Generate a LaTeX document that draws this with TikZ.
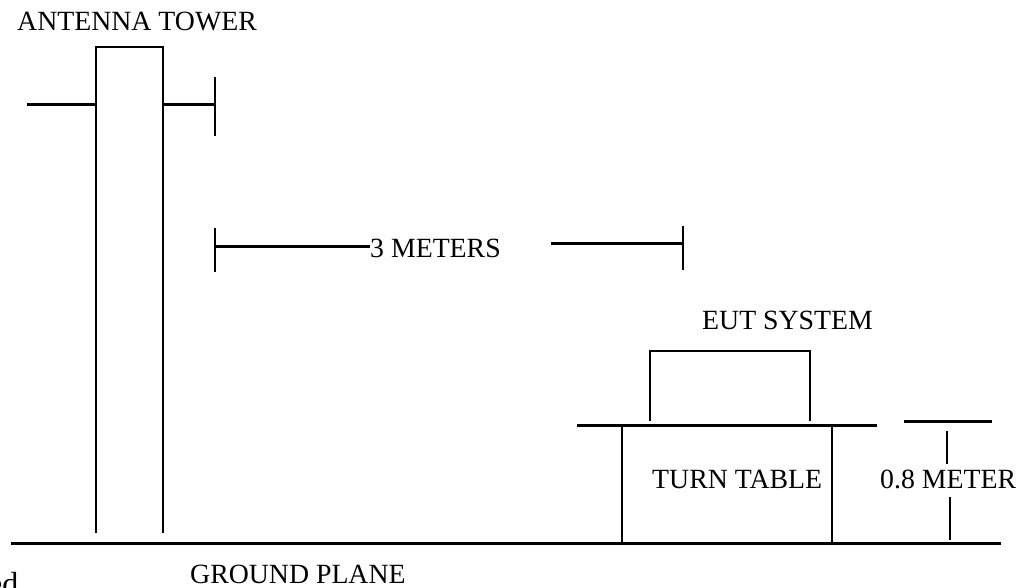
\documentclass[tikz,border=0pt]{standalone}
\usepackage{fontspec}
\setmainfont{Liberation Serif}
\begin{document}
\begin{tikzpicture}[x=1pt, y=-1pt, thin/.style = {line width=1.3pt}, heavy/.style = {line width=3pt}, label/.style = {inner sep=0pt, anchor=base west, font=\fontsize{27.8pt}{30pt}\selectfont}]
        \useasboundingbox (0,0) rectangle (1032,587);
        % tower
        \coordinate (t1) at (96,533);
        \coordinate (t2) at (96,47);
        \coordinate (t3) at (163,47);
        \coordinate (t4) at (163,533);
        \coordinate (a1) at (27,104);
        \coordinate (a2) at (96,104);
        \coordinate (a3) at (163,104);
        \coordinate (a4) at (216,104);
        \coordinate (a5) at (215,77);
        \coordinate (a6) at (215,136);
        % distance
        \coordinate (d1) at (215,228);
        \coordinate (d2) at (215,272);
        \coordinate (d3) at (215,246);
        \coordinate (d4) at (683,226);
        \coordinate (d5) at (683,270);
        \coordinate (d6) at (683,243);
        \coordinate (d7) at (551,243);
        % table
        \coordinate (b1) at (650,421);
        \coordinate (b2) at (650,351);
        \coordinate (b3) at (810,351);
        \coordinate (b4) at (810,421);
        \coordinate (p1) at (577,425);
        \coordinate (p2) at (877,425);
        \coordinate (l1) at (622,427);
        \coordinate (l2) at (622,543);
        \coordinate (l3) at (832,427);
        \coordinate (l4) at (832,543);
        % height
        \coordinate (h1) at (904,421);
        \coordinate (h2) at (992,421);
        \coordinate (h3) at (947,431);
        \coordinate (h4) at (947,464);
        \coordinate (h5) at (950,497);
        \coordinate (h6) at (950,540);
        % ground
        \coordinate (g1) at (11,543);
        \coordinate (g2) at (1001,543);
        \node[label] (tower) at (17,30) {ANTENNA TOWER};
        \node[label] (meters) at (370,257) {3 METERS};
        \node[label] (eut) at (702,329) {EUT SYSTEM};
        \node[label] (turn) at (652,488) {TURN TABLE};
        \node[label] (height) at (880,488) {0.8 METER};
        \node[label] (plane) at (190,583) {GROUND PLANE};
        \node[label, font=\fontsize{32pt}{34pt}\selectfont] (cut) at (-12,594) {ed};
        \draw[thin] (t1) -- (t2) -- (t3) -- (t4);
        \draw[heavy] (a1) -- (a2);
        \draw[heavy] (a3) -- (a4);
        \draw[thin] (a5) -- (a6);
        \draw[thin] (d1) -- (d2);
        \draw[heavy] (d3) -- (d3 -| meters.west);
        \draw[thin] (d4) -- (d5);
        \draw[heavy] (d7) -- (d6);
        \draw[thin] (b1) -- (b2) -- (b3) -- (b4);
        \draw[heavy] (p1) -- (p2);
        \draw[thin] (l1) -- (l2);
        \draw[thin] (l3) -- (l4);
        \draw[heavy] (h1) -- (h2);
        \draw[thin] (h3) -- (h4);
        \draw[thin] (h5) -- (h6);
        \draw[heavy] (g1) -- (g2);
    \end{tikzpicture}
\end{document}
